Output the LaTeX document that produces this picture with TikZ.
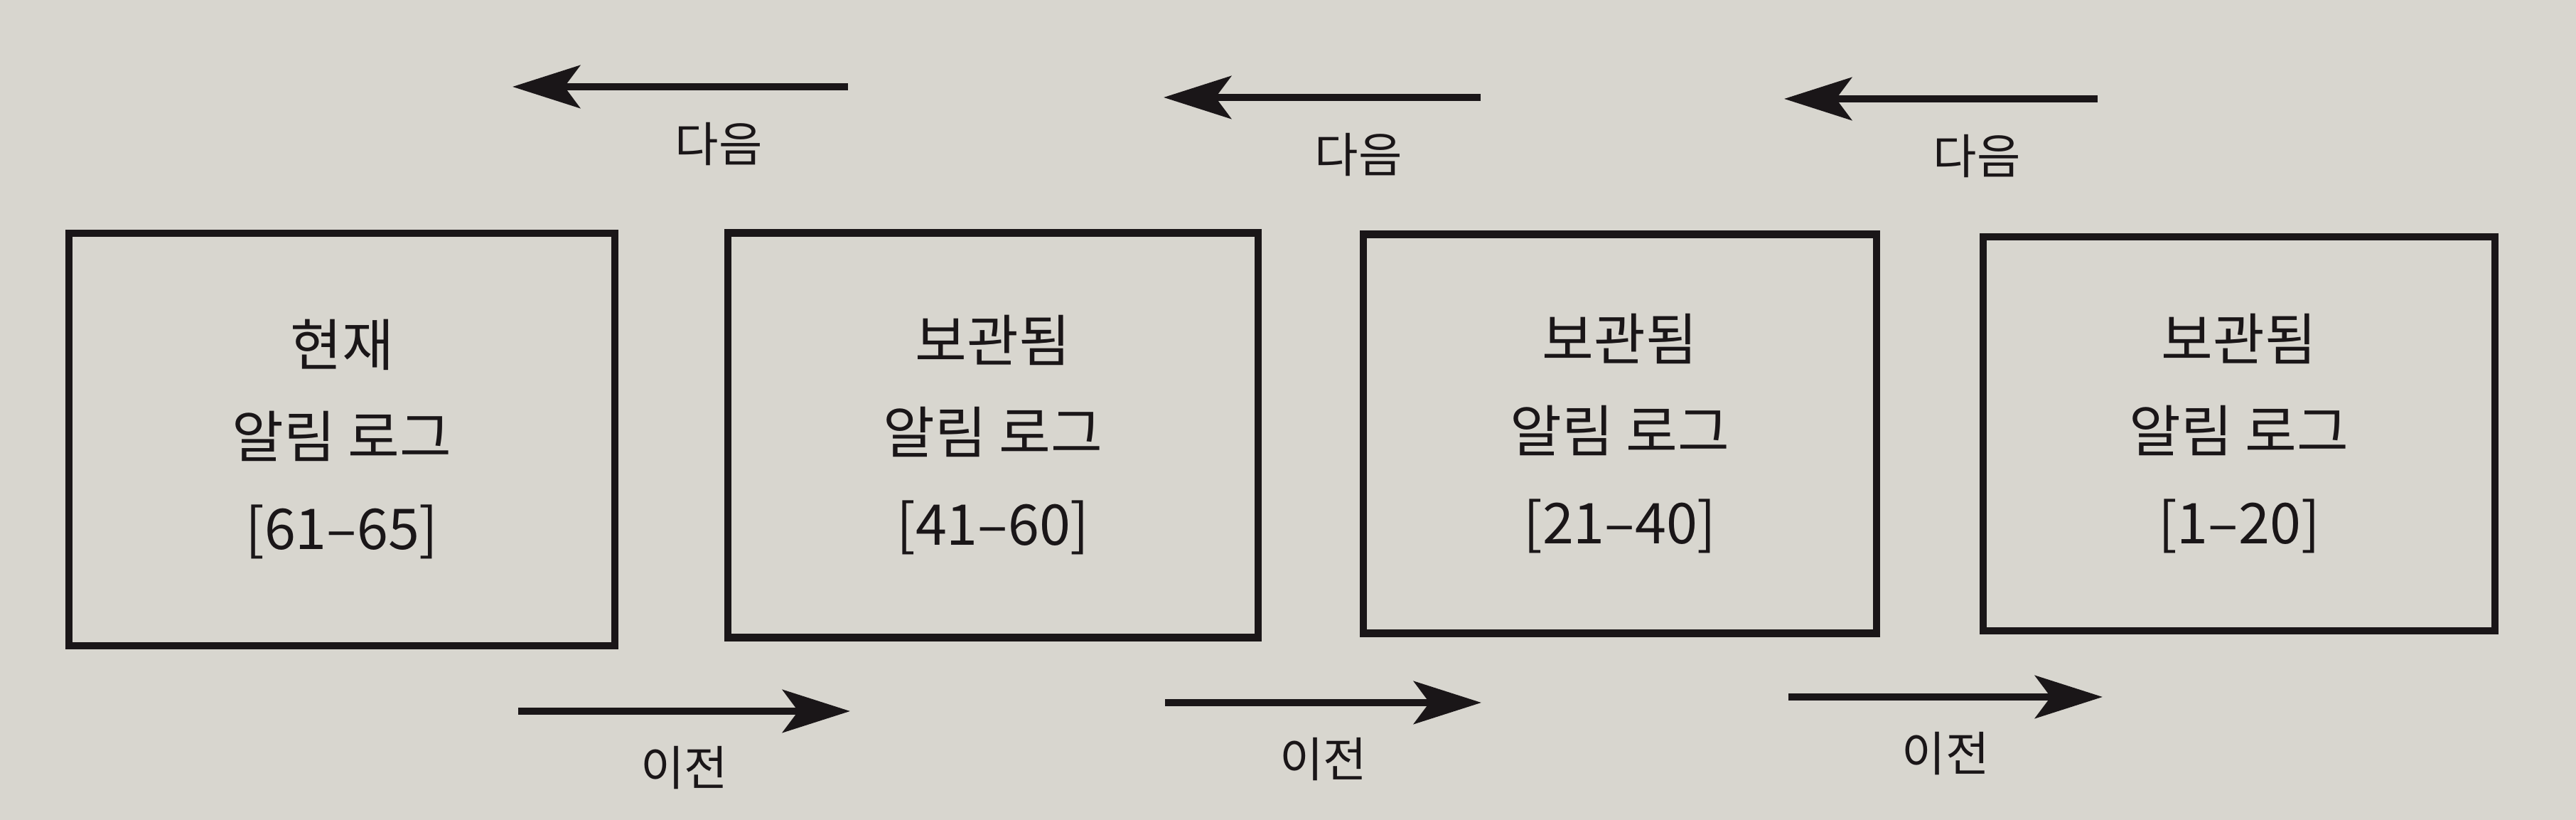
\documentclass[tikz,border=0pt]{standalone}
\usepackage{fontspec}
\setmainfont{Noto Sans CJK KR}
\usepackage{xcolor}
\usepackage{tikz}
\usetikzlibrary{arrows.meta,positioning}
\definecolor{paper}{RGB}{216,214,207}
\definecolor{ink}{RGB}{26,22,24}

\begin{document}
\begin{tikzpicture}[
  every node/.style={text=ink},
  logbox/.style={draw=ink, line width=3pt, align=center, inner sep=0pt,
    font=\fontsize{22.5}{36.7}\selectfont},
  linkarrow/.style={draw=ink, line width=3pt,
    -{Stealth[length=9.5mm, width=6mm, inset=2.2mm]}},
  linklabel/.style={font=\fontsize{19}{21}\selectfont}
]
  \fill[paper] (0,0) rectangle (36.24,11.53);
  \useasboundingbox (0,0) rectangle (36.24,11.53);

  \node[logbox, minimum width=7.68cm, minimum height=5.80cm] (cur) at (4.81,5.35)
    {현재\\알림 로그\\{}[61--65]};
  \node[logbox, minimum width=7.46cm, minimum height=5.69cm] (arch41) at (13.97,5.41)
    {보관됨\\알림 로그\\{}[41--60]};
  \node[logbox, minimum width=7.22cm, minimum height=5.61cm] (arch21) at (22.79,5.43)
    {보관됨\\알림 로그\\{}[21--40]};
  \node[logbox, minimum width=7.20cm, minimum height=5.54cm] (arch1) at (31.50,5.43)
    {보관됨\\알림 로그\\{}[1--20]};

  \coordinate (next1s) at (11.93,10.31);
  \coordinate (next1e) at (7.21,10.31);
  \coordinate (next2s) at (20.83,10.16);
  \coordinate (next2e) at (16.37,10.16);
  \coordinate (next3s) at (29.51,10.14);
  \coordinate (next3e) at (25.10,10.14);
  \coordinate (prev1s) at (7.29,1.53);
  \coordinate (prev1e) at (11.96,1.53);
  \coordinate (prev2s) at (16.39,1.65);
  \coordinate (prev2e) at (20.84,1.65);
  \coordinate (prev3s) at (25.16,1.73);
  \coordinate (prev3e) at (29.58,1.73);

  \draw[linkarrow] (next1s) -- (next1e) node[linklabel, pos=.385, yshift=-8.1mm] (next1) {다음};
  \draw[linkarrow] (next2s) -- (next2e) node[linklabel, pos=.385, yshift=-8.1mm] (next2) {다음};
  \draw[linkarrow] (next3s) -- (next3e) node[linklabel, pos=.385, yshift=-8.1mm] (next3) {다음};
  \draw[linkarrow] (prev1s) -- (prev1e) node[linklabel, midway, yshift=-8mm] (prev1) {이전};
  \draw[linkarrow] (prev2s) -- (prev2e) node[linklabel, midway, yshift=-8mm] (prev2) {이전};
  \draw[linkarrow] (prev3s) -- (prev3e) node[linklabel, midway, yshift=-8mm] (prev3) {이전};
\end{tikzpicture}
\end{document}
